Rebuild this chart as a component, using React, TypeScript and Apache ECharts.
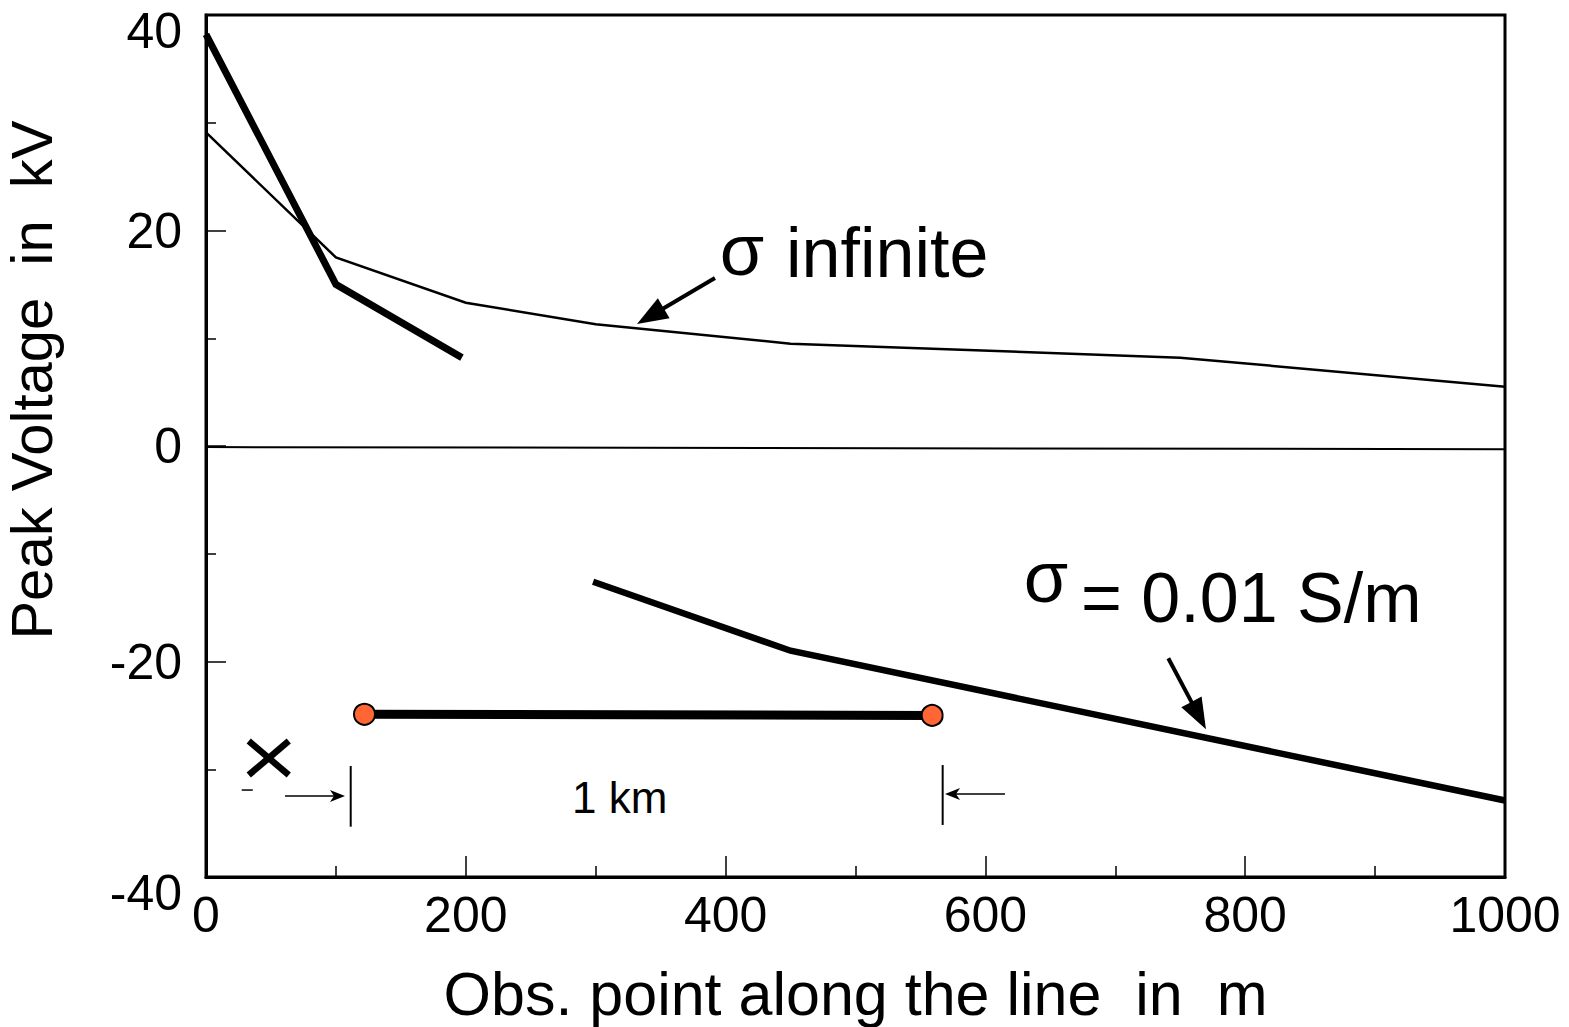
import React, { useEffect, useRef } from "react";
import * as echarts from "echarts";

// ---- data ----
const obsInfinite = [0, 100, 200, 300, 450, 750, 1000];
const voltInfinite = [29.1, 17.5, 13.3, 11.3, 9.5, 8.2, 5.5];

const obsNear = [0, 100, 197];
const voltNear = [38.2, 15.0, 8.2];

const obsFar = [298, 450, 1000];
const voltFar = [-12.6, -19.0, -32.9];

const obsZero = [0, 1000];
const voltZero = [-0.1, -0.3];

const lineEndsX = [122, 559];
const lineEndsY = [-24.9, -25.0];

const xTickValues = [0, 200, 400, 600, 800, 1000];
const yTickValues = [-40, -20, 0, 20, 40];

// ---- annotations (data coordinates) ----
const arrowInfinite = { from: [391.8, 15.59], to: [331.8, 11.32] };
const arrowFinite = { from: [740.8, -19.7], to: [769.8, -26.29] };
const strikeCenter = [48.3, -28.96];
const dashEnds = [[27.5, -31.93], [36.0, -31.93]];
const leftArrow = { from: [60.8, -32.48], to: [107.0, -32.48] };
const rightArrow = { from: [615.1, -32.3], to: [568.9, -32.3] };
const leftBar = [[111.4, -29.7], [111.4, -35.33]];
const rightBar = [[567.1, -29.61], [567.1, -35.17]];
const SANS = '"Liberation Sans", Arial, Helvetica, sans-serif';
const labels = [
  { text: "1 km", at: [281.8, -34.06], size: 44 },
  { text: "σ", at: [395.5, 15.9], size: 72 },
  { text: "infinite", at: [446.5, 15.68], size: 70 },
  { text: "σ", at: [629.5, -14.5], size: 72 },
  { text: "= 0.01 S/m", at: [673.6, -16.33], size: 70 },
];

const zip = (xs: number[], ys: number[]) => xs.map((x, i) => [x, ys[i]]);

export default function App() {
  const ref = useRef<HTMLDivElement>(null);

  useEffect(() => {
    if (!ref.current) return;
    const chart = echarts.init(ref.current, null, { renderer: "svg" });

    const lineSeries = (name: string, data: number[][], width: number) => ({
      type: "line",
      name,
      data,
      symbol: "none",
      lineStyle: { color: "#000", width, cap: "butt", join: "miter" },
      z: 3,
    });

    chart.setOption({
      animation: false,
      backgroundColor: "#fff",
      grid: {
        left: 206,
        top: 15,
        width: 1299,
        height: 862,
        show: true,
        borderColor: "#000",
        borderWidth: 3,
        backgroundColor: "transparent",
        containLabel: false,
        outerBoundsMode: "none",
      },
      xAxis: {
        type: "value",
        min: 0,
        max: 1000,
        interval: 200,
        name: "Obs. point along the line  in  m",
        nameLocation: "middle",
        nameGap: 86,
        nameTextStyle: { fontSize: 61, color: "#000", fontFamily: SANS },
        axisLine: { show: true, onZero: false, lineStyle: { color: "#000", width: 3 } },
        axisTick: { show: true, inside: true, length: 21, lineStyle: { color: "#000", width: 1.5 } },
        minorTick: { show: true, splitNumber: 2, length: 11, lineStyle: { color: "#000", width: 1.5 } },
        splitLine: { show: false },
        axisLabel: {
          fontSize: 50,
          color: "#000",
          fontFamily: SANS,
          margin: 13,
          formatter: (v: number) => (xTickValues.includes(v) ? String(v) : ""),
        },
      },
      yAxis: {
        type: "value",
        min: -40,
        max: 40,
        interval: 20,
        name: "Peak Voltage  in  kV",
        nameLocation: "middle",
        nameGap: 146,
        nameTextStyle: {
          fontSize: 58,
          color: "#000",
          fontFamily: SANS,
          padding: [0, 0, 0, 132],
        },
        axisLine: { show: true, onZero: false, lineStyle: { color: "#000", width: 3 } },
        axisTick: { show: true, inside: true, length: 20, lineStyle: { color: "#000", width: 1.5 } },
        minorTick: { show: true, splitNumber: 2, length: 10, lineStyle: { color: "#000", width: 1.5 } },
        splitLine: { show: false },
        axisLabel: {
          fontSize: 50,
          color: "#000",
          fontFamily: SANS,
          margin: 24,
          formatter: (v: number) => {
            if (!yTickValues.includes(v)) return "";
            return Math.abs(v) === 40 ? `{edge|${v}}` : String(v);
          },
          rich: {
            edge: { fontSize: 50, color: "#000", fontFamily: SANS, padding: [32, 0, 0, 0] },
          },
        },
      },
      series: [
        lineSeries("zero", zip(obsZero, voltZero), 2),
        lineSeries("sigma infinite", zip(obsInfinite, voltInfinite), 2.5),
        lineSeries("sigma 0.01 near", zip(obsNear, voltNear), 7),
        lineSeries("sigma 0.01 far", zip(obsFar, voltFar), 6.5),
        {
          type: "line",
          name: "line",
          data: zip(lineEndsX, lineEndsY),
          symbol: "circle",
          symbolSize: 21,
          itemStyle: { color: "#FF6633", borderColor: "#000", borderWidth: 2 },
          lineStyle: { color: "#000", width: 9, cap: "butt" },
          z: 4,
        },
      ],
    });

    const px = (p: number[]) => chart.convertToPixel({ gridIndex: 0 }, p) as number[];

    const arrow = (
      from: number[],
      to: number[],
      shaftW: number,
      headLen: number,
      headW: number,
      notch: number
    ) => {
      const a = px(from);
      const b = px(to);
      const dx = b[0] - a[0];
      const dy = b[1] - a[1];
      const L = Math.hypot(dx, dy);
      const ux = dx / L;
      const uy = dy / L;
      const bx = b[0] - ux * headLen;
      const by = b[1] - uy * headLen;
      const nx = -uy;
      const ny = ux;
      return [
        {
          type: "line",
          shape: { x1: a[0], y1: a[1], x2: bx + ux * (notch + 2), y2: by + uy * (notch + 2) },
          style: { stroke: "#000", lineWidth: shaftW },
          z: 10,
        },
        {
          type: "polygon",
          shape: {
            points: [
              [b[0], b[1]],
              [bx + (nx * headW) / 2, by + (ny * headW) / 2],
              [bx + ux * notch, by + uy * notch],
              [bx - (nx * headW) / 2, by - (ny * headW) / 2],
            ],
          },
          style: { fill: "#000" },
          z: 10,
        },
      ];
    };

    const seg = (p1: number[], p2: number[], w: number) => {
      const a = px(p1);
      const b = px(p2);
      return {
        type: "line",
        shape: { x1: a[0], y1: a[1], x2: b[0], y2: b[1] },
        style: { stroke: "#000", lineWidth: w },
        z: 10,
      };
    };

    const c = px(strikeCenter);
    const strike = [
      {
        type: "line",
        shape: { x1: c[0] - 20, y1: c[1] - 17, x2: c[0] + 20, y2: c[1] + 17 },
        style: { stroke: "#000", lineWidth: 6.5 },
        z: 10,
      },
      {
        type: "line",
        shape: { x1: c[0] + 20, y1: c[1] - 17, x2: c[0] - 20, y2: c[1] + 17 },
        style: { stroke: "#000", lineWidth: 6.5 },
        z: 10,
      },
    ];

    const texts = labels.map((l) => {
      const p = px(l.at);
      return {
        type: "text",
        x: p[0],
        y: p[1] - 0.3465 * l.size,
        style: {
          text: l.text,
          font: `${l.size}px ${SANS}`,
          fill: "#000",
          align: "left",
          verticalAlign: "middle",
        },
        z: 10,
      };
    });

    chart.setOption({
      graphic: [
        ...arrow(arrowInfinite.from, arrowInfinite.to, 4, 31, 23, 0),
        ...arrow(arrowFinite.from, arrowFinite.to, 4, 31, 23, 0),
        ...arrow(leftArrow.from, leftArrow.to, 1.5, 15, 12, 4),
        ...arrow(rightArrow.from, rightArrow.to, 1.5, 15, 12, 4),
        seg(leftBar[0], leftBar[1], 2),
        seg(rightBar[0], rightBar[1], 2),
        seg(dashEnds[0], dashEnds[1], 1.5),
        ...strike,
        ...texts,
      ],
    });

    return () => chart.dispose();
  }, []);

  return (
    <div
      ref={ref}
      style={{ position: "absolute", left: 0, top: 0, width: 1569, height: 1027, background: "#fff" }}
    />
  );
}
